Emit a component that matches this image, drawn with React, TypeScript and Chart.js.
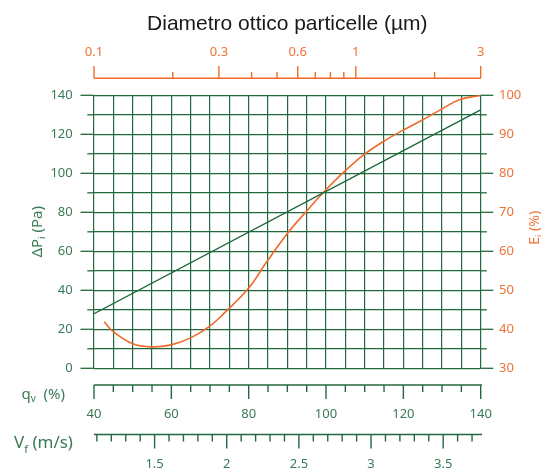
import React, { useEffect, useRef } from 'react';
import { Chart, registerables } from 'chart.js';

Chart.register(...registerables);

// ---------------- data ----------------
const titleText = 'Diametro ottico particelle (µm)';
const flowPct = [40, 140]; // q_v (%)
const pressureDrop = [28, 132.5]; // ΔP_i (Pa)
const diameterUm = [0.1095, 0.1185, 0.1405, 0.166, 0.197, 0.234, 0.277, 0.315, 0.389, 0.457, 0.545, 0.649, 0.75, 0.91, 1.08, 1.27, 1.51, 1.79, 2.12, 2.5, 3.0];
const efficiencyPct = [41.9, 39.4, 36.3, 35.5, 36.0, 37.8, 40.8, 44.2, 50.5, 57.3, 64.4, 70.3, 75.0, 80.6, 84.9, 88.1, 91.0, 93.6, 96.4, 98.9, 100];
const qLabels = [40, 60, 80, 100, 120, 140];
const dpLabels = [0, 20, 40, 60, 80, 100, 120, 140];
const effLabels = [30, 40, 50, 60, 70, 80, 90, 100];
const diamLabels = [0.1, 0.3, 0.6, 1, 3];
const diamMinor = [0.2, 0.4, 0.5, 0.7, 0.8, 0.9, 2];
const vLabels = [1.5, 2, 2.5, 3, 3.5];
const vMinor = [1.1, 1.2, 1.3, 1.4, 1.6, 1.7, 1.8, 1.9, 2.1, 2.2, 2.3, 2.4, 2.6, 2.7, 2.8, 2.9, 3.1, 3.2, 3.3, 3.4, 3.6, 3.7];
const vRange = [1.08, 3.76];

// ---------------- styles ----------------
const GRID = '#23693f';
const GREEN_LINE = '#1d6639';
const GREEN_TXT = '#3a7a55';
const ORANGE = '#f06a2a';
const ORANGE_TXT = '#ef7236';
const FONT = '"Noto Sans", "Open Sans", sans-serif';

Chart.defaults.font.family = FONT;

type Part = { t: string; size: number; dy?: number };

function rich(ctx: CanvasRenderingContext2D, parts: Part[], x: number, baseY: number, align: 'left' | 'center') {
  let w = 0;
  for (const p of parts) {
    ctx.font = `${p.size}px ${FONT}`;
    w += ctx.measureText(p.t).width;
  }
  let cx = align === 'center' ? x - w / 2 : x;
  ctx.textAlign = 'left';
  ctx.textBaseline = 'alphabetic';
  for (const p of parts) {
    ctx.font = `${p.size}px ${FONT}`;
    ctx.fillText(p.t, cx, baseY + (p.dy || 0));
    cx += ctx.measureText(p.t).width;
  }
}

function seg(ctx: CanvasRenderingContext2D, x1: number, y1: number, x2: number, y2: number) {
  ctx.beginPath();
  ctx.moveTo(x1, y1);
  ctx.lineTo(x2, y2);
  ctx.stroke();
}

const decor = {
  id: 'decor',
  afterDraw(chart: any) {
    const { ctx, chartArea: a, scales } = chart;
    const { x, y, y2, d, v } = scales;
    ctx.save();
    ctx.lineWidth = 1.3;
    ctx.strokeStyle = GRID;
    // grid extensions on the left (ΔP) and right (E)
    for (const t of y.ticks) {
      const py = y.getPixelForValue(t.value);
      seg(ctx, a.left - (dpLabels.includes(t.value) ? 13.5 : 6.7), py, a.left, py);
    }
    for (const t of y2.ticks) {
      const py = y2.getPixelForValue(t.value);
      seg(ctx, a.right, py, a.right + (effLabels.includes(t.value) ? 12.6 : 6.2), py);
    }
    // q_v axis
    ctx.lineWidth = 1.4;
    const qy = x.top + 16.7;
    seg(ctx, x.left, qy, x.right + 1.3, qy);
    for (const t of x.ticks) {
      const px = x.getPixelForValue(t.value);
      seg(ctx, px, qy, px, qy + (qLabels.includes(t.value) ? 14 : 7));
    }
    // V_f axis
    const vy = v.top + 14.2;
    seg(ctx, v.left, vy, v.right + 1.3, vy);
    for (const t of v.ticks) {
      const px = v.getPixelForValue(t.value);
      seg(ctx, px, vy, px, vy + (vLabels.includes(t.value) ? 14 : 7));
    }
    // diameter (log) axis
    ctx.strokeStyle = ORANGE;
    const ty = d.bottom - 17;
    seg(ctx, d.left, ty, d.right, ty);
    for (const t of d.ticks) {
      const px = d.getPixelForValue(t.value);
      seg(ctx, px, ty, px, ty - (diamLabels.includes(t.value) ? 12.4 : 6.3));
    }

    // axis titles
    const cy = (a.top + a.bottom) / 2;
    ctx.fillStyle = GREEN_TXT;
    ctx.save();
    ctx.translate(36.7, cy);
    ctx.rotate(-Math.PI / 2);
    rich(ctx, [{ t: 'ΔP', size: 15 }, { t: 'i', size: 9.5, dy: 3 }, { t: ' (Pa)', size: 15 }], 0, 5.4, 'center');
    ctx.restore();

    ctx.fillStyle = ORANGE_TXT;
    ctx.save();
    ctx.translate(534, cy - 4);
    ctx.rotate(-Math.PI / 2);
    rich(ctx, [{ t: 'E', size: 14 }, { t: 'i', size: 9, dy: 3 }, { t: ' (%)', size: 14 }], 0, 5, 'center');
    ctx.restore();

    ctx.fillStyle = GREEN_TXT;
    rich(ctx, [{ t: 'q', size: 15 }, { t: 'v', size: 10, dy: 2.7 }, { t: '  (%)', size: 15 }], 21.5, 399, 'left');
    rich(ctx, [{ t: 'V', size: 17 }, { t: 'f', size: 11, dy: 5 }, { t: ' (m/s)', size: 17 }], 14, 448.3, 'left');
    ctx.restore();
  },
};

export default function App() {
  const ref = useRef<HTMLCanvasElement>(null);
  useEffect(() => {
    const canvas = ref.current!;
    const chart = new Chart(canvas, {
      type: 'line',
      data: {
        datasets: [
          {
            label: 'ΔPi',
            data: flowPct.map((q, i) => ({ x: q, y: pressureDrop[i] })),
            xAxisID: 'x',
            yAxisID: 'y',
            borderColor: GREEN_LINE,
            borderWidth: 1.4,
            pointRadius: 0,
            tension: 0,
          },
          {
            label: 'Ei',
            data: diameterUm.map((dd, i) => ({ x: dd, y: efficiencyPct[i] })),
            xAxisID: 'd',
            yAxisID: 'y2',
            borderColor: ORANGE,
            borderWidth: 1.6,
            pointRadius: 0,
            tension: 0.4,
          },
        ],
      } as any,
      options: {
        responsive: false,
        animation: false,
        devicePixelRatio: 1,
        layout: { padding: 0 },
        events: [],
        plugins: { legend: { display: false }, tooltip: { enabled: false }, title: { display: false } },
        scales: {
          x: {
            type: 'linear',
            position: 'bottom',
            axis: 'x',
            weight: 1,
            min: 40,
            max: 140,
            ticks: {
              stepSize: 5,
              autoSkip: false,
              maxRotation: 0,
              padding: 38.3,
              color: GREEN_TXT,
              font: { size: 13 },
              callback: (val: any) => (qLabels.includes(val) ? String(val) : ''),
            },
            grid: { color: GRID, lineWidth: 1.2, drawTicks: false },
            border: { display: false },
            afterFit: (s: any) => {
              s.height = 52;
            },
          },
          v: {
            type: 'linear',
            position: 'bottom',
            axis: 'x',
            weight: 2,
            bounds: 'data',
            min: vRange[0],
            max: vRange[1],
            afterBuildTicks: (s: any) => {
              s.ticks = [...vMinor, ...vLabels].sort((p, q) => p - q).map((value) => ({ value }));
            },
            ticks: {
              autoSkip: false,
              maxRotation: 0,
              padding: 35.9,
              color: GREEN_TXT,
              font: { size: 13 },
              callback: (val: any) => (vLabels.includes(val) ? String(val) : ''),
            },
            grid: { display: false, drawTicks: false },
            border: { display: false },
            afterFit: (s: any) => {
              s.height = 47.7;
            },
          },
          d: {
            type: 'logarithmic',
            position: 'top',
            axis: 'x',
            bounds: 'data',
            min: 0.1,
            max: 3,
            afterBuildTicks: (s: any) => {
              s.ticks = [...diamLabels, ...diamMinor].sort((p, q) => p - q).map((value) => ({ value }));
            },
            ticks: {
              autoSkip: false,
              maxRotation: 0,
              padding: 34.8,
              color: ORANGE_TXT,
              font: { size: 13 },
              callback: (val: any) => (diamLabels.includes(val) ? String(val) : ''),
            },
            title: {
              display: true,
              text: titleText,
              color: '#1a1a1a',
              font: { family: '"Liberation Sans", Arial, sans-serif', size: 21 },
              padding: { top: 11.8, bottom: 0 },
            },
            grid: { display: false, drawTicks: false },
            border: { display: false },
            afterFit: (s: any) => {
              s.height = 95.3;
            },
          },
          y: {
            type: 'linear',
            position: 'left',
            min: 0,
            max: 140,
            ticks: {
              stepSize: 10,
              autoSkip: false,
              padding: 21.3,
              color: GREEN_TXT,
              font: { size: 13 },
              callback: (val: any) => (dpLabels.includes(val) ? String(val) : ''),
            },
            grid: { color: GRID, lineWidth: 1.2, drawTicks: false },
            border: { display: false },
            afterFit: (s: any) => {
              s.width = 94;
            },
          },
          y2: {
            type: 'linear',
            position: 'right',
            min: 30,
            max: 100,
            ticks: {
              stepSize: 5,
              autoSkip: false,
              padding: 18.3,
              color: ORANGE_TXT,
              font: { size: 13 },
              callback: (val: any) => (effLabels.includes(val) ? String(val) : ''),
            },
            grid: { display: false, drawTicks: false },
            border: { display: false },
            afterFit: (s: any) => {
              s.width = 60.3;
            },
          },
        },
      } as any,
      plugins: [decor],
    });
    return () => chart.destroy();
  }, []);
  return (
    <div style={{ position: 'fixed', left: 0, top: 0, width: 541, height: 468, background: '#fff' }}>
      <canvas ref={ref} width={541} height={468} style={{ display: 'block', width: 541, height: 468 }} />
    </div>
  );
}
